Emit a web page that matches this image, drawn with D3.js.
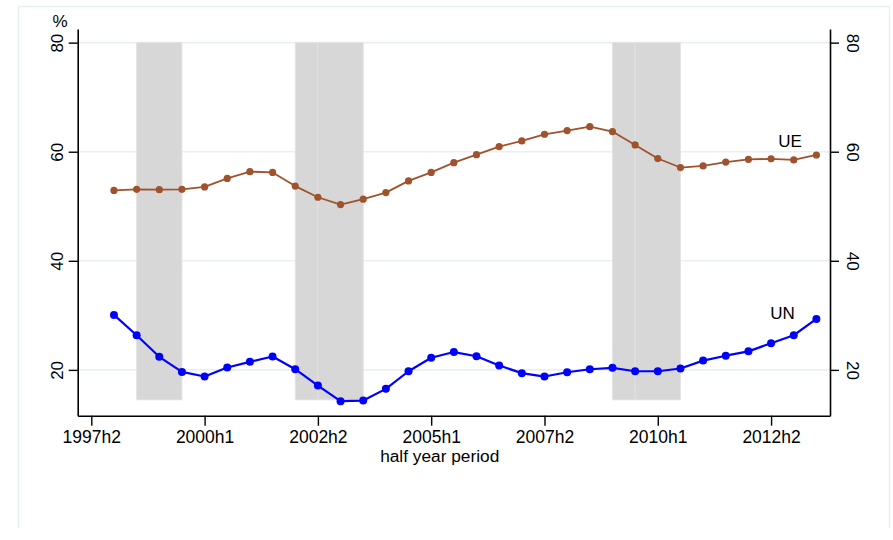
<!DOCTYPE html>
<html>
<head>
<meta charset="utf-8">
<script src="https://cdn.jsdelivr.net/npm/d3@7"></script>
<style>
  html, body { margin: 0; padding: 0; background: #fff; }
  svg { display: block; font-family: "Liberation Sans", Arial, sans-serif; }
</style>
</head>
<body>
<svg id="chart" width="893" height="540"></svg>
<script>
// Half-year periods covered by the series
const periods = [
  "1998h1","1998h2","1999h1","1999h2","2000h1","2000h2","2001h1","2001h2",
  "2002h1","2002h2","2003h1","2003h2","2004h1","2004h2","2005h1","2005h2",
  "2006h1","2006h2","2007h1","2007h2","2008h1","2008h2","2009h1","2009h2",
  "2010h1","2010h2","2011h1","2011h2","2012h1","2012h2","2013h1","2013h2"
];

// Share (%) by period
const ueValues = [
  52.9, 53.1, 53.05, 53.1, 53.55, 55.1, 56.35, 56.2,
  53.7, 51.65, 50.3, 51.3, 52.5, 54.65, 56.2, 58.0,
  59.45, 60.95, 61.98, 63.2, 63.87, 64.6, 63.7, 61.25,
  58.75, 57.1, 57.4, 58.1, 58.6, 58.7, 58.5, 59.4
];
const unValues = [
  30.08, 26.35, 22.4, 19.63, 18.78, 20.43, 21.47, 22.45,
  20.12, 17.13, 14.26, 14.38, 16.52, 19.75, 22.23, 23.27,
  22.5, 20.8, 19.4, 18.78, 19.57, 20.12, 20.37, 19.75,
  19.75, 20.25, 21.7, 22.6, 23.4, 24.9, 26.35, 29.35
];

const xTickLabels = ["1997h2","2000h1","2002h2","2005h1","2007h2","2010h1","2012h2"];
const yTicks = [20, 40, 60, 80];

// Recession periods (start, end), shaded behind the lines
const recessions = [
  ["1998h2","1999h2"],
  ["2002h1","2002h2"],
  ["2002h2","2003h2"],
  ["2009h1","2009h2"],
  ["2009h2","2010h2"]
];
const shadeTop = 80, shadeBottom = 14.5;

// Convert "YYYYhN" to a running half-year number
const hy = s => +s.slice(0, 4) * 2 + (s.slice(5) === "2" ? 1 : 0);
const origin = hy("1997h2");

const FONT = "'Liberation Sans', Arial, sans-serif";
const svg = d3.select("#chart");

// Light outer frame
svg.append("path")
  .attr("d", "M18.5,528 L18.5,6.5 L889.5,6.5 L889.5,528")
  .attr("fill", "none").attr("stroke", "#e6eff2").attr("stroke-width", 1.5);

const plotLeft = 77.7, plotRight = 830, plotTop = 29, plotBottom = 415.7;

const x = d3.scaleLinear().domain([origin - 0.6, origin + 32.6]).range([plotLeft, plotRight]);
const y = d3.scaleLinear().domain([11.6, 82.5]).range([plotBottom, plotTop]);

// Gridlines
svg.append("g").selectAll("line").data(yTicks).join("line")
  .attr("x1", plotLeft).attr("x2", plotRight)
  .attr("y1", d => y(d)).attr("y2", d => y(d))
  .attr("stroke", "#e8f0f2").attr("stroke-width", 1.6);

// Recession shading
svg.append("g").selectAll("rect").data(recessions).join("rect")
  .attr("x", d => x(hy(d[0])))
  .attr("width", d => x(hy(d[1])) - x(hy(d[0])))
  .attr("y", y(shadeTop))
  .attr("height", y(shadeBottom) - y(shadeTop))
  .attr("fill", "#d7d7d7")
  .attr("stroke", "#e2e2e2").attr("stroke-width", 0.8);

// Axes
const xAxis = d3.axisBottom(x)
  .tickValues(xTickLabels.map(hy))
  .tickFormat((d, i) => xTickLabels[i])
  .tickSize(10).tickSizeOuter(0).tickPadding(5);
const gx = svg.append("g").attr("transform", `translate(0,${plotBottom})`).call(xAxis);
gx.select(".domain").attr("stroke", "#000").attr("stroke-width", 1.6);
gx.selectAll(".tick line").attr("stroke", "#000").attr("stroke-width", 1.4);
gx.selectAll(".tick text").attr("font-size", 17.5).attr("fill", "#000")
  .attr("font-family", FONT);

const yLeft = d3.axisLeft(y).tickValues(yTicks).tickSize(9).tickSizeOuter(0).tickPadding(0);
const gyl = svg.append("g").attr("transform", `translate(${plotLeft},0)`).call(yLeft);
gyl.select(".domain").attr("stroke", "#000").attr("stroke-width", 1.6);
gyl.selectAll(".tick line").attr("stroke", "#000").attr("stroke-width", 1.4);
gyl.selectAll(".tick text")
  .attr("font-size", 17).attr("fill", "#000")
  .attr("font-family", FONT)
  .attr("text-anchor", "middle").attr("dy", null).attr("x", null)
  .attr("transform", "translate(-20,0) rotate(-90)")
  .attr("dominant-baseline", "central");

const yRight = d3.axisRight(y).tickValues(yTicks).tickSize(9).tickSizeOuter(0).tickPadding(0);
const gyr = svg.append("g").attr("transform", `translate(${plotRight},0)`).call(yRight);
gyr.select(".domain").attr("stroke", "#000").attr("stroke-width", 1.6);
gyr.selectAll(".tick line").attr("stroke", "#000").attr("stroke-width", 1.4);
gyr.selectAll(".tick text")
  .attr("font-size", 17).attr("fill", "#000")
  .attr("font-family", FONT)
  .attr("text-anchor", "middle").attr("dy", null).attr("x", null)
  .attr("transform", "translate(22,0) rotate(90)")
  .attr("dominant-baseline", "central");

// Series lines and markers
const series = [
  { name: "UE", values: ueValues, color: "#a0522d", width: 1.8, r: 3.6 },
  { name: "UN", values: unValues, color: "#0000ff", width: 2.2, r: 4 }
];
const line = d3.line().x((d, i) => x(hy(periods[i]))).y(d => y(d));

series.forEach(s => {
  const g = svg.append("g");
  g.append("path").attr("d", line(s.values))
    .attr("fill", "none").attr("stroke", s.color).attr("stroke-width", s.width)
    .attr("stroke-linejoin", "round");
  g.selectAll("circle").data(s.values).join("circle")
    .attr("cx", (d, i) => x(hy(periods[i]))).attr("cy", d => y(d))
    .attr("r", s.r).attr("fill", s.color);
});

// Series labels
svg.append("text").text("UE")
  .attr("x", x(origin + 30.84)).attr("y", y(61.84))
  .attr("text-anchor", "middle").attr("dominant-baseline", "central")
  .attr("font-size", 17).attr("font-family", FONT);
svg.append("text").text("UN")
  .attr("x", x(origin + 30.5)).attr("y", y(30.37))
  .attr("text-anchor", "middle").attr("dominant-baseline", "central")
  .attr("font-size", 17).attr("font-family", FONT);

// Axis titles
svg.append("text").text("%")
  .attr("x", 60).attr("y", 21.7)
  .attr("text-anchor", "middle").attr("dominant-baseline", "central")
  .attr("font-size", 17).attr("font-family", FONT);
svg.append("text").text("half year period")
  .attr("x", 439.7).attr("y", 455.7)
  .attr("text-anchor", "middle").attr("dominant-baseline", "central")
  .attr("font-size", 17.3).attr("font-family", FONT);
</script>
</body>
</html>
